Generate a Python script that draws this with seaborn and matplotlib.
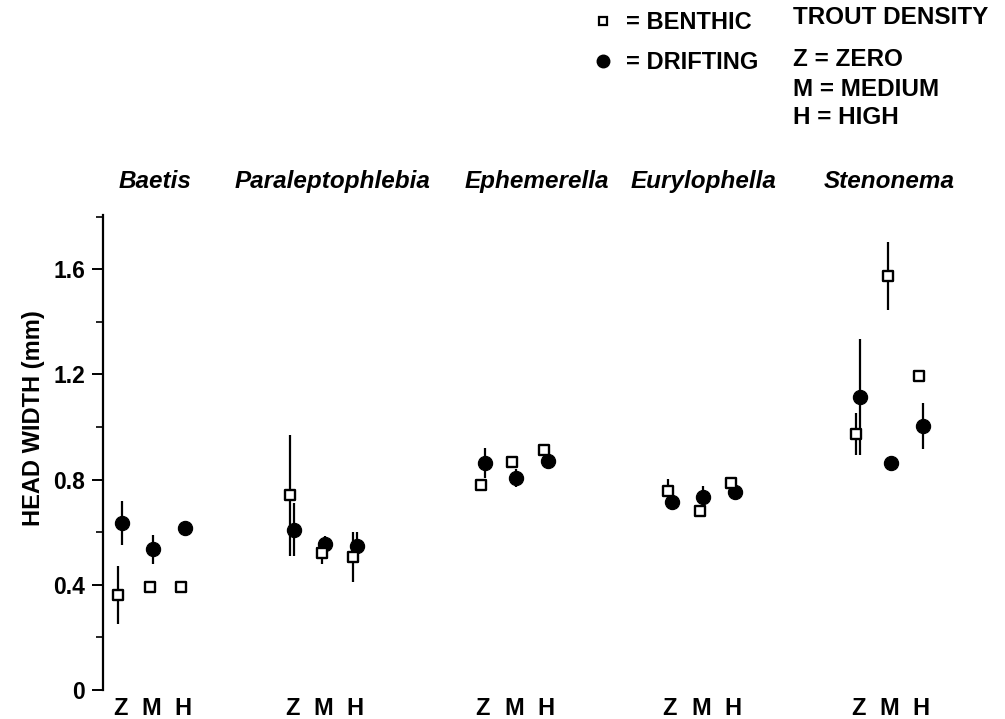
import numpy as np
import pandas as pd
import matplotlib
matplotlib.use('Agg')
import matplotlib.pyplot as plt
from matplotlib.ticker import MultipleLocator
from matplotlib.lines import Line2D
import seaborn as sns

# dados
genera = ['Baetis', 'Paraleptophlebia', 'Ephemerella', 'Eurylophella', 'Stenonema']
density = ['Z', 'M', 'H']
benthic_mean = [0.36, 0.39, 0.39, 0.74, 0.52, 0.505, 0.78, 0.867, 0.913,
                0.757, 0.68, 0.787, 0.973, 1.574, 1.194]
benthic_err = [0.11, 0, 0, 0.23, 0.04, 0.095, 0, 0, 0,
               0.045, 0, 0, 0.08, 0.13, 0]
drifting_mean = [0.635, 0.535, 0.615, 0.61, 0.555, 0.547, 0.863, 0.806, 0.87,
                 0.715, 0.735, 0.754, 1.114, 0.863, 1.004]
drifting_err = [0.085, 0.055, 0, 0.1, 0.03, 0.055, 0.057, 0.035, 0,
                0, 0.04, 0, 0.22, 0.025, 0.088]

# layout
group_start = [0, 5.46, 11.52, 17.46, 23.43]
title_shift = [0.1, 0.3, 0.7, 0.06, 0.0]
offset = {'Benthic': -0.06, 'Drifting': 0.06}

rows = []
for gi, (g, gs) in enumerate(zip(genera, group_start)):
    for j, d in enumerate(density):
        k = gi * 3 + j
        rows.append(dict(genus=g, density=d, pos=gs + j, type='Benthic',
                         mean=benthic_mean[k], err=benthic_err[k]))
        rows.append(dict(genus=g, density=d, pos=gs + j, type='Drifting',
                         mean=drifting_mean[k], err=drifting_err[k]))
df = pd.DataFrame(rows)
df['x'] = df['pos'] + df['type'].map(offset)

sns.set_style('white')
plt.rcParams['font.family'] = ['Liberation Sans', 'DejaVu Sans']
for key in ['text.color', 'axes.labelcolor', 'xtick.color', 'ytick.color']:
    plt.rcParams[key] = 'black'

fig = plt.figure(figsize=(10.05, 7.19), dpi=100)
ax = fig.add_axes([103 / 1005, 29 / 719, 857 / 1005, 475 / 719])

# barras de erro
for _, r in df[df['err'] > 0].iterrows():
    ax.errorbar(r['x'], r['mean'], yerr=r['err'], fmt='none', ecolor='black',
                elinewidth=1.6, capsize=0, zorder=1)

sns.scatterplot(data=df[df['type'] == 'Drifting'], x='x', y='mean', ax=ax,
                marker='o', s=105, color='black', edgecolor='black', zorder=3,
                legend=False)
sns.scatterplot(data=df[df['type'] == 'Benthic'], x='x', y='mean', ax=ax,
                marker='s', s=62, facecolor='white', edgecolor='black',
                linewidth=1.7, zorder=4, legend=False)

ax.set_xlim(-0.54, 26.67)
ax.set_ylim(0, 1.806)
ax.yaxis.set_major_locator(MultipleLocator(0.4))
ax.yaxis.set_minor_locator(MultipleLocator(0.2))
ax.set_yticklabels(['0' if v == 0 else f'{v:.1f}' for v in ax.get_yticks()],
                   fontsize=16.5, fontweight='bold')
ax.tick_params(axis='y', which='major', direction='out', length=8, width=1.4,
               left=True, pad=5)
ax.tick_params(axis='y', which='minor', direction='out', length=5, width=1.2,
               left=True)
ax.set_xticks(df['pos'].unique())
ax.set_xticklabels(density * len(genera), fontsize=17, fontweight='bold')
ax.tick_params(axis='x', length=0, pad=5)

for s in ['top', 'right', 'bottom']:
    ax.spines[s].set_visible(False)
ax.spines['left'].set_linewidth(1.6)
ax.spines['left'].set_color('black')

ax.set_xlabel('')
ax.set_ylabel('HEAD WIDTH (mm)', fontsize=17, fontweight='bold')
ax.yaxis.set_label_coords(-0.068, 0.573)

for g, gs, sh in zip(genera, group_start, title_shift):
    ax.text(gs + 1 + sh, 1.071, g, transform=ax.get_xaxis_transform(),
            ha='center', va='center', fontsize=17.5, fontweight='bold',
            style='italic')

# legenda
handles = [Line2D([], [], marker='s', color='black', markerfacecolor='white',
                  markersize=6, markeredgewidth=1.6, linestyle=''),
           Line2D([], [], marker='o', color='black', markersize=9, linestyle='')]
fig.legend(handles, ['= BENTHIC', '= DRIFTING'], loc='upper left',
           bbox_to_anchor=(568 / 1005, 1 + 10 / 719), frameon=False,
           prop=dict(size=17, weight='bold'), labelspacing=0.72,
           handletextpad=0.35, handlelength=1.2)

for txt, ypx in [('TROUT DENSITY', 18), ('Z = ZERO', 59),
                 ('M = MEDIUM', 89), ('H = HIGH', 117)]:
    fig.text(793 / 1005, 1 - ypx / 719, txt, fontsize=17.5, fontweight='bold',
             va='center')

fig.savefig('out.png', dpi=100)
